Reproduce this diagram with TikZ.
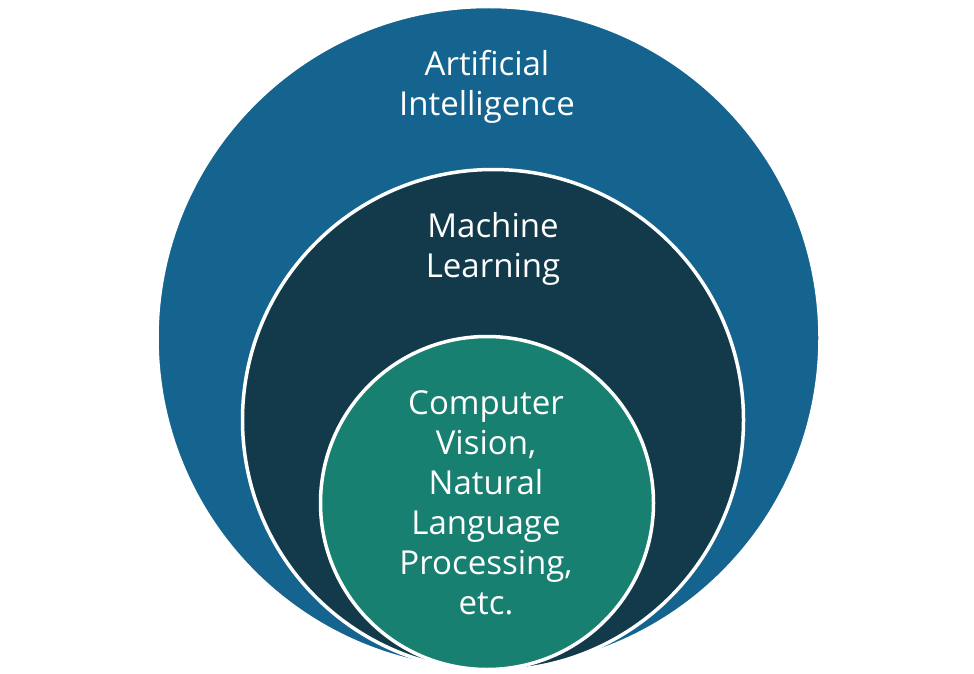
\documentclass[tikz,border=0pt]{standalone}
\usepackage{fontspec}
\setmainfont{Open Sans}
\usetikzlibrary{positioning}
\definecolor{aiblue}{RGB}{21,100,143}
\definecolor{mldark}{RGB}{18,58,74}
\definecolor{cvteal}{RGB}{24,128,112}
\tikzset{
  ring/.style={circle,draw=white,line width=3.5pt,inner sep=0pt},
  lbl/.style={text=white,align=center,font=\fontsize{33}{40}\selectfont}
}
\begin{document}
\begin{tikzpicture}[x=1pt,y=-1pt]
\useasboundingbox (0,0) rectangle (974,674);
\coordinate (C1) at (488.5,338); \coordinate (C2) at (493,420); \coordinate (C3) at (487,503);
\node[ring,fill=aiblue,minimum size=663pt] (ai) at (C1) {};
\node[ring,fill=mldark,minimum size=501pt] (ml) at (C2) {};
\node[ring,fill=cvteal,minimum size=333pt] (cv) at (C3) {};
\node[lbl] (ailbl) at (487,87) {Artificial\\Intelligence};
\node[lbl] (mllbl) at (493,249) {Machine\\Learning};
\node[lbl] (cvlbl) at (486,503) {Computer\\Vision,\\Natural\\Language\\Processing,\\etc.};
\end{tikzpicture}
\end{document}
